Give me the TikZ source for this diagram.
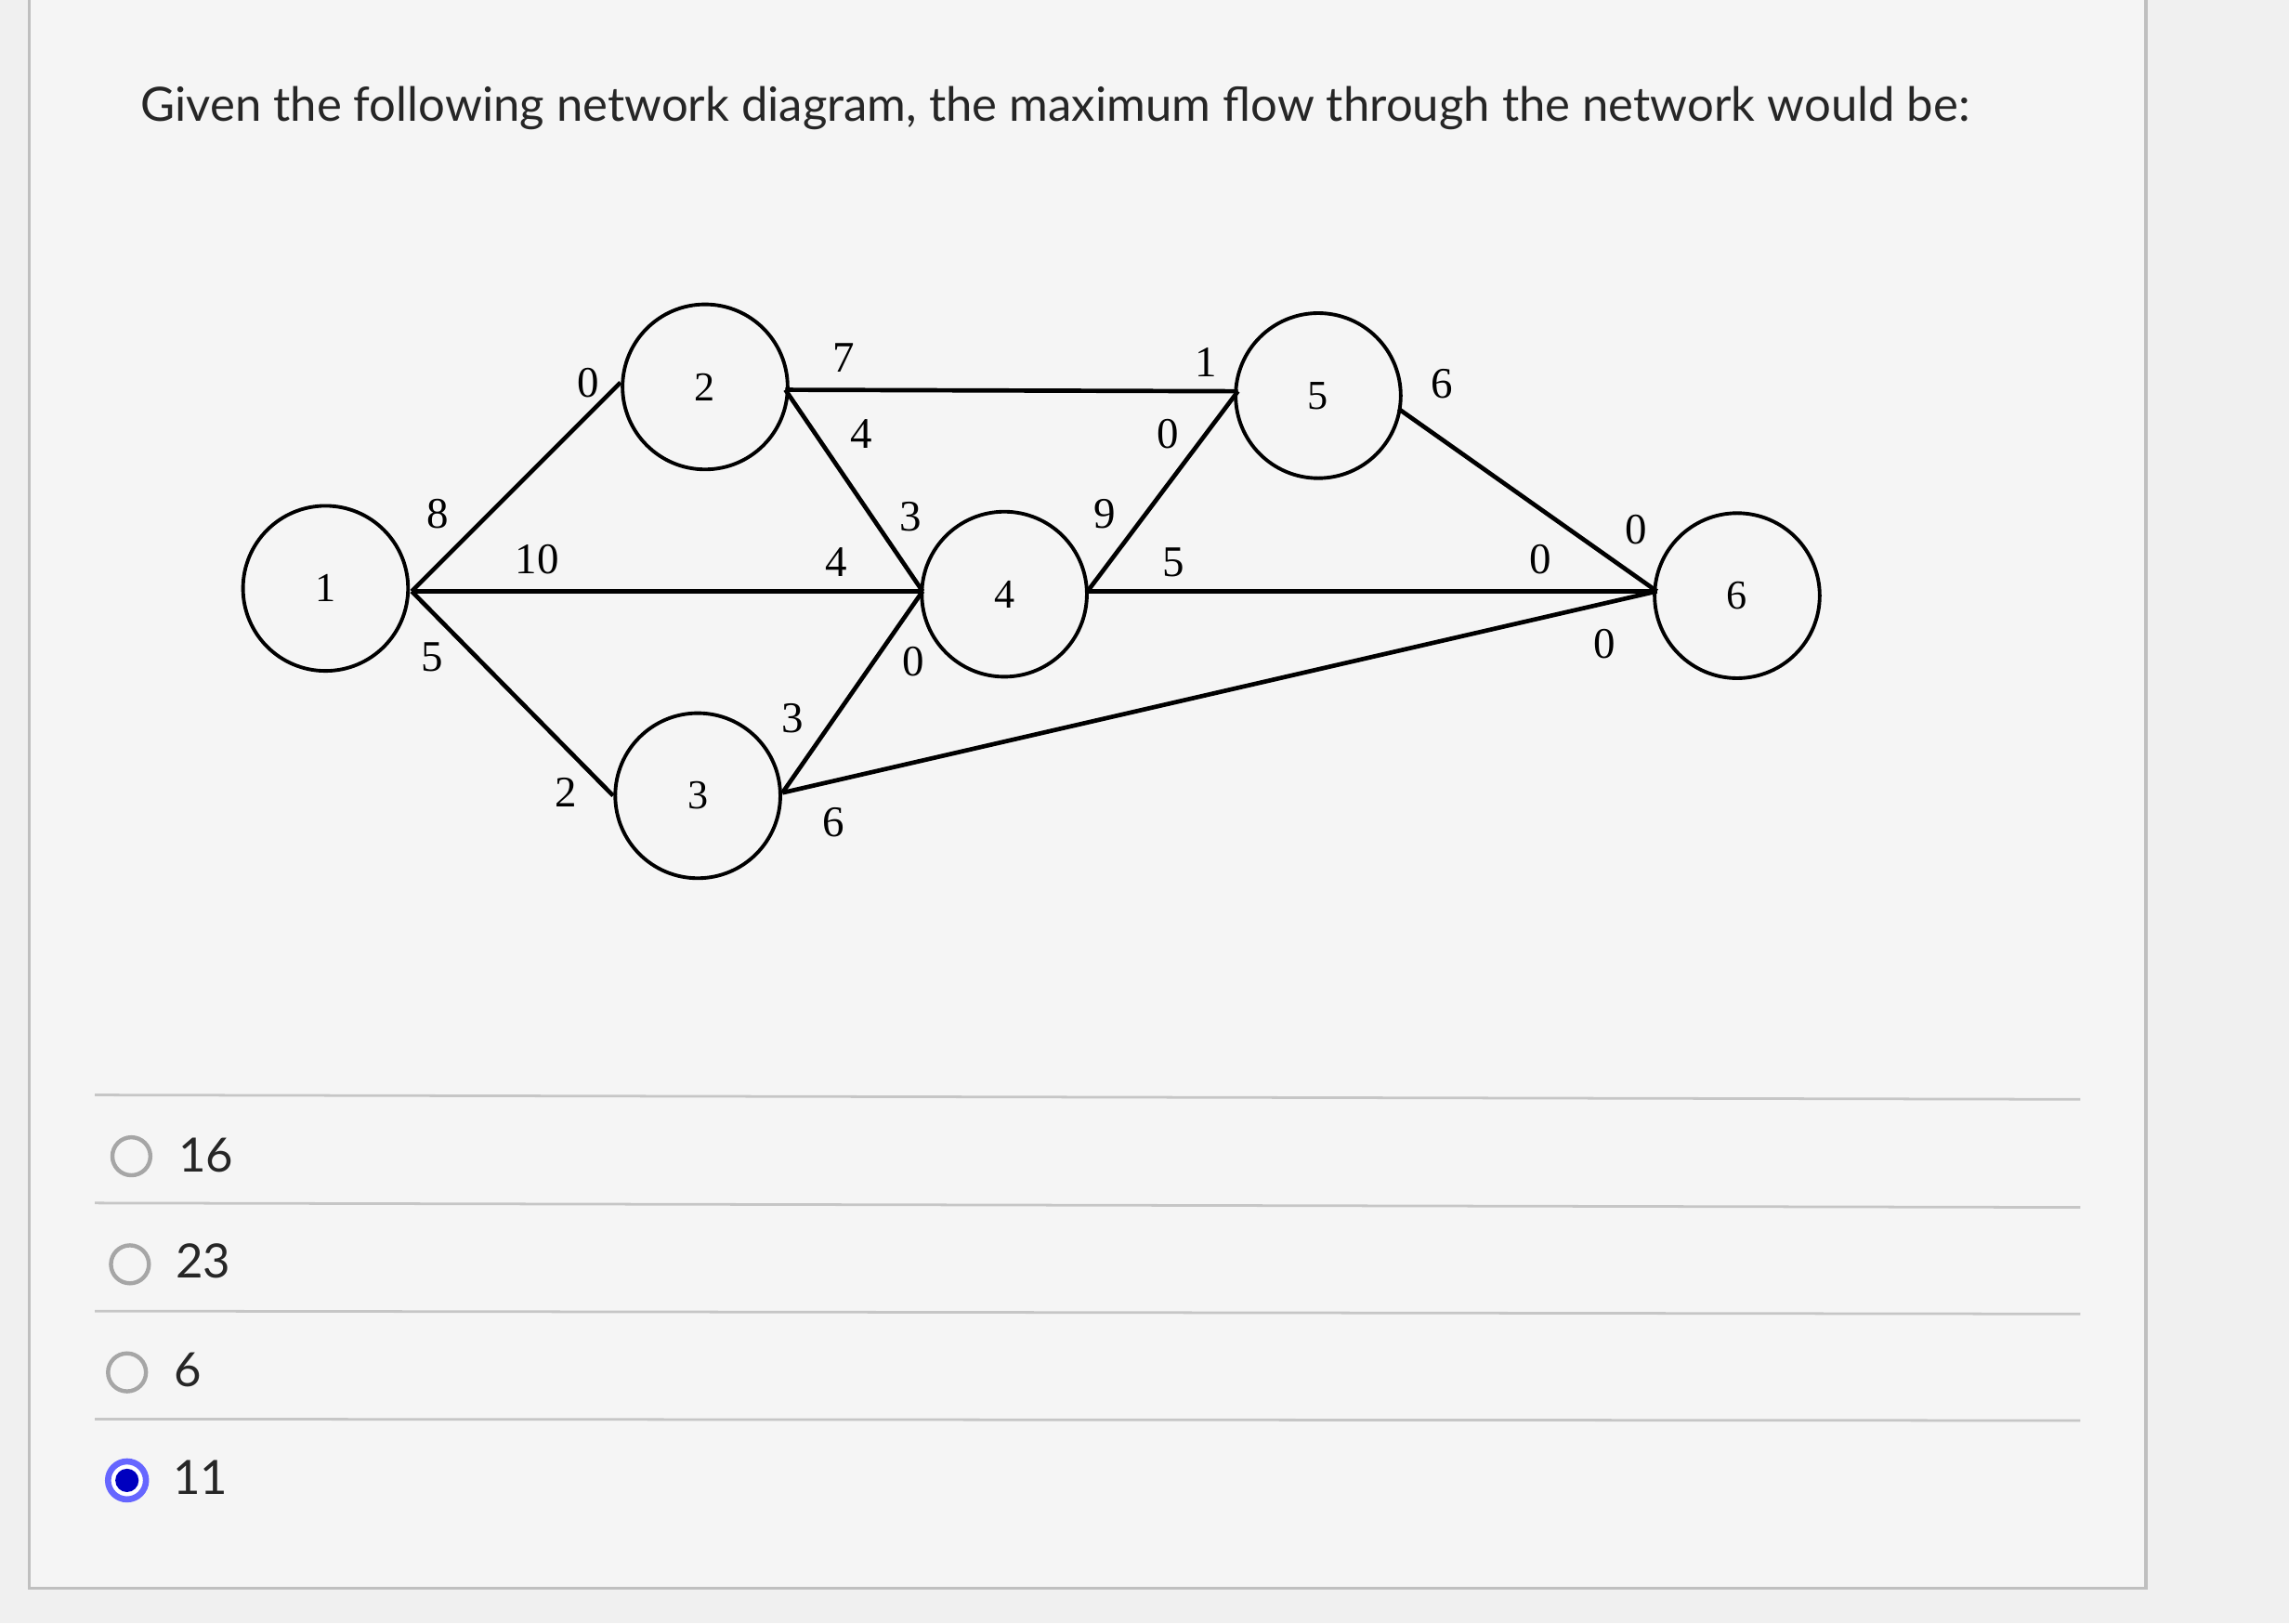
\documentclass[tikz,border=0pt]{standalone}
\usepackage{fontspec}
\setmainfont{Liberation Serif}
\newfontfamily\latofont{Lato}
\begin{document}
\begin{tikzpicture}[x=0.01cm,y=-0.01cm,
  nd/.style={draw,circle,line width=0.7pt,minimum size=1.13cm,inner sep=0pt,font=\fontsize{8}{9}\selectfont},
  ed/.style={line width=0.85pt},
  lb/.style={font=\fontsize{8.5}{9}\selectfont},
  rad/.style={draw=gray!70,line width=0.8pt,circle,minimum size=0.26cm,inner sep=0pt},
  opt/.style={font=\latofont\fontsize{9.2}{11}\selectfont,anchor=west,text=black!85},
  sep/.style={draw=gray!45,line width=0.5pt}]
\useasboundingbox (0,0) rectangle (1568,1112);
\fill[gray!12] (0,0) rectangle (1568,1112);
\draw[gray!50,line width=0.6pt,fill=gray!8] (20,-5) rectangle (1470,1088);
\node[anchor=west,font=\latofont\fontsize{9.2}{11}\selectfont,text=black!85] (title) at (84,74) {Given the following network diagram, the maximum flow through the network would be:};
\node[nd] (n1) at (223,403) {1};
\node[nd] (n2) at (483,265) {2};
\node[nd] (n3) at (478,545) {3};
\node[nd] (n4) at (688,407) {4};
\node[nd] (n5) at (903,271) {5};
\node[nd] (n6) at (1190,408) {6};
\coordinate (a1) at (282,405);
\coordinate (a2l) at (425,262);
\coordinate (a2r) at (538,267);
\coordinate (a3l) at (420,545);
\coordinate (a3r) at (536,543);
\coordinate (a4l) at (632,405);
\coordinate (a4r) at (745,405);
\coordinate (a5l) at (848,268);
\coordinate (a5r) at (958,280);
\coordinate (a6) at (1135,405);
\draw[ed] (a1)--(a2l);
\draw[ed] (a1)--(a4l);
\draw[ed] (a1)--(a3l);
\draw[ed] (a2r)--(a5l);
\draw[ed] (a2r)--(a4l);
\draw[ed] (a3r)--(a4l);
\draw[ed] (a3r)--(a6);
\draw[ed] (a4r)--(a5l);
\draw[ed] (a4r)--(a6);
\draw[ed] (a5r)--(a6);
\node[lb] (l1) at (403,262) {0};
\node[lb] (l2) at (300,352) {8};
\node[lb] (l3) at (368,383) {10};
\node[lb] (l4) at (296,450) {5};
\node[lb] (l5) at (388,543) {2};
\node[lb] (l6) at (578,245) {7};
\node[lb] (l7) at (590,297) {4};
\node[lb] (l8) at (624,354) {3};
\node[lb] (l9) at (573,385) {4};
\node[lb] (l10) at (626,453) {0};
\node[lb] (l11) at (543,492) {3};
\node[lb] (l12) at (571,563) {6};
\node[lb] (l13) at (757,352) {9};
\node[lb] (l14) at (800,297) {0};
\node[lb] (l15) at (826,248) {1};
\node[lb] (l16) at (804,385) {5};
\node[lb] (l17) at (988,263) {6};
\node[lb] (l18) at (1121,363) {0};
\node[lb] (l19) at (1055,383) {0};
\node[lb] (l20) at (1099,441) {0};
\draw[sep] (65,750)--(1425,753);
\draw[sep] (65,824)--(1425,827);
\draw[sep] (65,898)--(1425,900);
\draw[sep] (65,972)--(1425,973);
\node[rad] (r1) at (90,792) {};
\node[opt] (o1) at (110,791) {16};
\node[rad] (r2) at (89,866) {};
\node[opt] (o2) at (108,864) {23};
\node[rad] (r3) at (87,940) {};
\node[opt] (o3) at (107,938) {6};
\node[rad,draw=blue!60,fill=white,line width=1.2pt] (r4) at (87,1014) {};
\fill[blue!75!black] (r4.center) circle (8);
\node[opt] (o4) at (106,1012) {11};
\end{tikzpicture}
\end{document}
